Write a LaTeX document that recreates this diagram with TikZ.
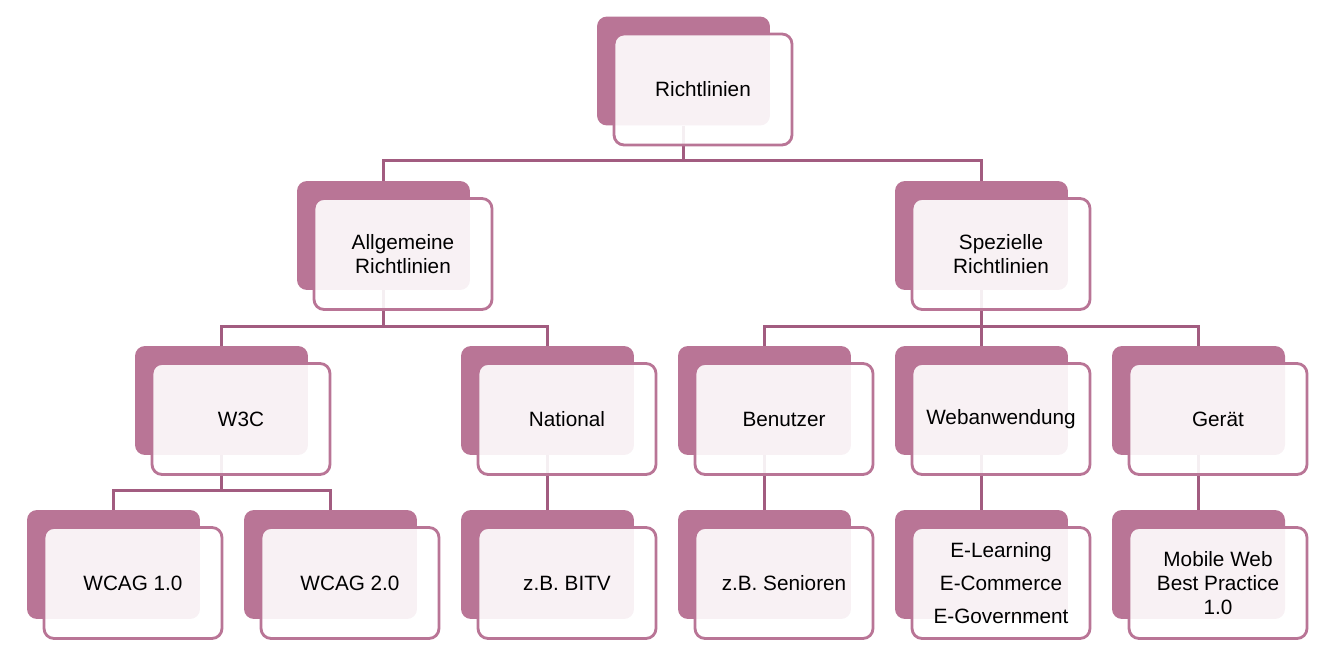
\documentclass[tikz,border=0pt]{standalone}
\usepackage{fontspec}
\setmainfont{Liberation Sans}
\usetikzlibrary{positioning}
\definecolor{mauve}{RGB}{185,117,150}
\definecolor{mauvedark}{RGB}{162,92,128}

\begin{document}
\begin{tikzpicture}[x=0.02cm, y=-0.02cm,
  backbox/.style={fill=mauve, rounded corners=0.2cm, minimum width=3.46cm, minimum height=2.18cm, inner sep=0pt},
  frontbox/.style={draw=mauve, line width=1.6pt, fill=white, fill opacity=0.9, text opacity=1,
    rounded corners=0.2cm, minimum width=3.56cm, minimum height=2.22cm, inner sep=0pt,
    align=center, font=\fontsize{11.8}{13.6}\selectfont},
  link/.style={draw=mauvedark, line width=1.6pt}]
\useasboundingbox (0,0) rectangle (1328,668);
% back plates {{{
\node[backbox] (root) at (683.5,71) {};
\node[backbox] (allg) at (383.5,235.5) {};
\node[backbox] (spez) at (981.5,235.5) {};
\node[backbox] (w3c) at (221.5,400.5) {};
\foreach \n/\x in {nat/547.5, ben/764.5, web/981.5, ger/1198.5}
	\node[backbox] (\n) at (\x,400.5) {};
\foreach \n/\x in {wcag1/113.5, wcag2/330.5, bitv/547.5, sen/764.5, ecomm/981.5, mobile/1198.5}
	\node[backbox] (\n) at (\x,564.5) {};
% }}}
% connectors {{{
\draw[link] (root.south) -- ++(0,35) -| (allg.north);
\draw[link] (root.south) -- ++(0,35) -| (spez.north);
\draw[link] (allg.south) -- ++(0,36) -| (w3c.north);
\draw[link] (allg.south) -- ++(0,36) -| (nat.north);
\draw[link] (spez.south) -- ++(0,36) -| (ben.north);
\draw[link] (spez.south) -- (web.north);
\draw[link] (spez.south) -- ++(0,36) -| (ger.north);
\draw[link] (w3c.south) -- ++(0,35) -| (wcag1.north);
\draw[link] (w3c.south) -- ++(0,35) -| (wcag2.north);
\draw[link] (nat.south) -- (bitv.north);
\draw[link] (ben.south) -- (sen.north);
\draw[link] (web.south) -- (ecomm.north);
\draw[link] (ger.south) -- (mobile.north);
% }}}
% front cards {{{
\foreach \n/\t in {root/Richtlinien, allg/{Allgemeine\\Richtlinien}, spez/{Spezielle\\Richtlinien},
	w3c/W3C, nat/National, ben/Benutzer, web/Webanwendung, ger/Gerät,
	wcag1/WCAG 1.0, wcag2/WCAG 2.0, bitv/z.B. BITV, sen/z.B. Senioren,
	ecomm/{E-Learning\\[5pt]E-Commerce\\[5pt]E-Government}, mobile/{Mobile Web\\Best Practice\\1.0}}
	\node[frontbox] (\n-card) at ([xshift=0.39cm,yshift=-0.37cm]\n.center) {\t};
% }}}
\end{tikzpicture}
\end{document}
